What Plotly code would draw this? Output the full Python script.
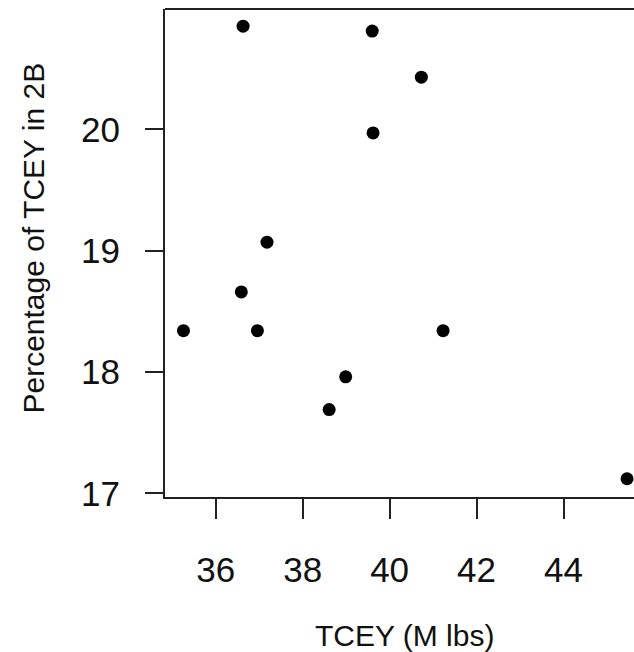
import plotly.graph_objects as go

tcey = [36.63, 39.60, 40.73, 39.62, 37.18, 36.59, 35.26, 36.96, 41.23, 38.99, 38.61, 45.46]
pct_2b = [20.85, 20.81, 20.43, 19.97, 19.07, 18.66, 18.34, 18.34, 18.34, 17.96, 17.69, 17.12]

x_ticks = [36, 38, 40, 42, 44]
y_ticks = [17, 18, 19, 20]
x_title = "TCEY (M lbs)"
y_title = "Percentage of TCEY in 2B"

FONT = "Liberation Sans, Arial, sans-serif"

fig = go.Figure(go.Scatter(
    x=tcey, y=pct_2b, mode="markers",
    marker=dict(color="black", size=13),
    cliponaxis=False,
))

fig.update_layout(
    width=634, height=652,
    margin=dict(l=165, r=0, t=9, b=155),
    paper_bgcolor="white", plot_bgcolor="white",
    showlegend=False,
    font=dict(family=FONT, color="#111", size=35),
)
fig.update_xaxes(
    range=[34.835, 45.62], tickvals=x_ticks, ticktext=[str(v) for v in x_ticks],
    showgrid=False, zeroline=False, showline=True, linecolor="#222", linewidth=2,
    ticks="outside", ticklen=20, tickwidth=2, tickcolor="#222",
    tickfont=dict(size=35, family=FONT, color="#111"), ticklabelstandoff=21,
)
fig.update_yaxes(
    range=[16.9695, 20.9917], tickvals=y_ticks, ticktext=[str(v) for v in y_ticks],
    showgrid=False, zeroline=False, showline=True, linecolor="#222", linewidth=2,
    ticks="outside", ticklen=18, tickwidth=2, tickcolor="#222",
    tickfont=dict(size=35, family=FONT, color="#111"), ticklabelstandoff=18,
)
fig.add_shape(type="line", xref="paper", yref="paper", x0=0, x1=1, y0=1, y1=1,
              line=dict(color="#222", width=2))
fig.add_annotation(text=x_title, xref="paper", yref="paper", x=0.5096, y=-0.2828,
                   showarrow=False, font=dict(size=30, family=FONT, color="#111"),
                   xanchor="center", yanchor="middle")
fig.add_annotation(text=y_title, xref="paper", yref="paper", x=-0.2814, y=0.5297,
                   showarrow=False, textangle=-90, font=dict(size=30, family=FONT, color="#111"),
                   xanchor="center", yanchor="middle")

fig.write_html("out.html")
